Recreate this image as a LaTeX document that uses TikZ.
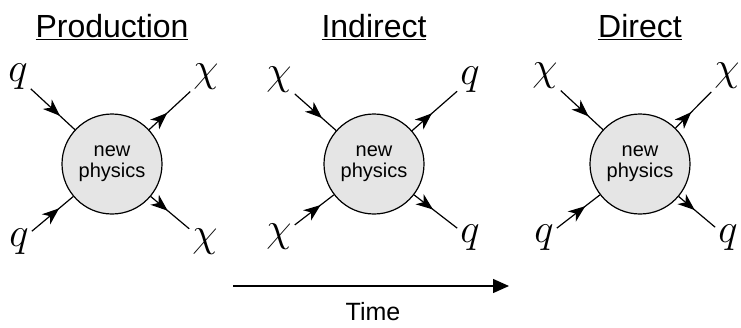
\RequirePackage{fix-cm}
\documentclass[tikz,border=0pt]{standalone}
\usepackage{fontspec}
\setsansfont{Liberation Sans}
\usetikzlibrary{arrows.meta,positioning,calc,decorations.markings}

\begin{document}
\begin{tikzpicture}[
  x=1pt,y=-1pt,
  blob/.style={circle,draw,line width=1.2pt,fill=black!10,minimum size=100pt,inner sep=0pt,align=center,font=\fontsize{20}{21}\selectfont\sffamily},
  lbl/.style={inner sep=3pt,font=\fontsize{41}{44}\selectfont},
  ttl/.style={anchor=base,inner sep=0pt,font=\fontsize{32}{36}\selectfont\sffamily},
  fin/.style={line width=1.2pt,postaction={decorate},decoration={markings,mark=at position 0.66 with {\arrow{Stealth[length=17pt,width=13pt,inset=5pt]}}}},
  fout/.style={line width=1.2pt,postaction={decorate},decoration={markings,mark=at position 0.44 with {\arrow{Stealth[length=17pt,width=13pt,inset=5pt]}}}},
  timeline/.style={-{Triangle[length=16pt,width=14pt]},line width=1.4pt}
]
\useasboundingbox (0,0) rectangle (741,327);

% production
\node[ttl] (tprod) at (112,37) {\underline{Production}};
\node[blob] (np1) at (112,164) {new\\physics};
\node[lbl] (q1a) at (18,77) {$q$};
\node[lbl] (q1b) at (19,242) {$q$};
\node[lbl] (x1a) at (206,77) {$\chi$};
\node[lbl] (x1b) at (205,242) {$\chi$};
\draw[fin] (q1a) -- (np1);
\draw[fin] (q1b) -- (np1);
\draw[fout] (np1) -- (x1a);
\draw[fout] (np1) -- (x1b);

% indirect
\node[ttl] (tind) at (374,37) {\underline{Indirect}};
\node[blob] (np2) at (374,164) {new\\physics};
\node[lbl] (x2a) at (279,80) {$\chi$};
\node[lbl] (x2b) at (279,237) {$\chi$};
\node[lbl] (q2a) at (470,80) {$q$};
\node[lbl] (q2b) at (470,238) {$q$};
\draw[fin] (x2a) -- (np2);
\draw[fin] (x2b) -- (np2);
\draw[fout] (np2) -- (q2a);
\draw[fout] (np2) -- (q2b);

% direct
\node[ttl] (tdir) at (640,37) {\underline{Direct}};
\node[blob] (np3) at (640,164) {new\\physics};
\node[lbl] (x3a) at (545,76) {$\chi$};
\node[lbl] (q3b) at (544,238) {$q$};
\node[lbl] (x3c) at (727,76) {$\chi$};
\node[lbl] (q3d) at (728,238) {$q$};
\draw[fin] (x3a) -- (np3);
\draw[fin] (q3b) -- (np3);
\draw[fout] (np3) -- (x3c);
\draw[fout] (np3) -- (q3d);

% time axis
\coordinate (tstart) at (233,286);
\coordinate (tend) at (509,286);
\draw[timeline] (tstart) -- (tend);
\node[font=\fontsize{25}{28}\selectfont\sffamily] (time) at (373,312) {Time};
\end{tikzpicture}
\end{document}
